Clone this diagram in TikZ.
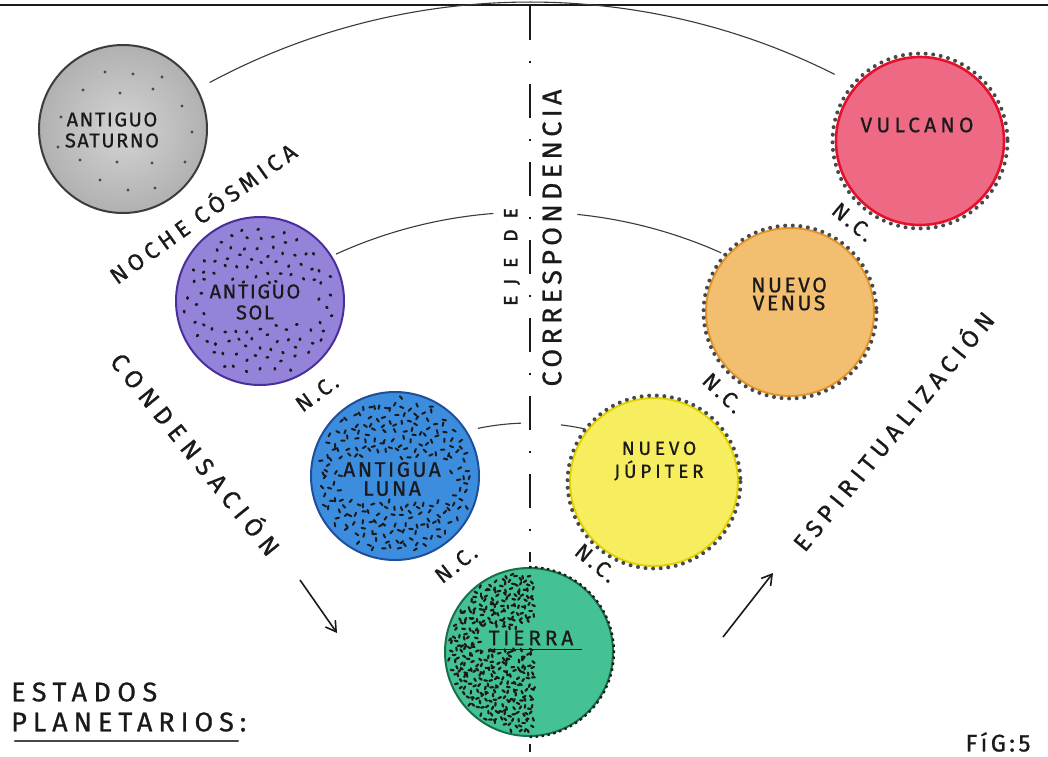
\documentclass[tikz,border=0pt]{standalone}
\usepackage{fontspec}
\setmainfont{Fira Sans}
\usetikzlibrary{arrows.meta}
\definecolor{satfill}{HTML}{C9C9C9}
\definecolor{satedge}{HTML}{3C3C3C}
\definecolor{solfill}{HTML}{9583DA}
\definecolor{soledge}{HTML}{4B2E9E}
\definecolor{lunfill}{HTML}{3D8DDF}
\definecolor{lunedge}{HTML}{1F4F9A}
\definecolor{terfill}{HTML}{45C293}
\definecolor{teredge}{HTML}{17704A}
\definecolor{jupfill}{HTML}{F6EE5E}
\definecolor{jupedge}{HTML}{E2D200}
\definecolor{venfill}{HTML}{F2BE70}
\definecolor{venedge}{HTML}{E3962E}
\definecolor{vulfill}{HTML}{EE6A84}
\definecolor{vuledge}{HTML}{E5102C}
\definecolor{ink}{HTML}{1A1A1A}
\definecolor{arcgrey}{HTML}{3A3A3A}
\newcommand\hf[3]{\fontsize{#1}{#2}\selectfont\addfontfeature{LetterSpace=#3,FakeBold=0.8}}
\newcommand\speckle[8]{%
 \foreach \i in {1,...,#2}{%
  \pgfmathsetmacro\rr{#3*sqrt((\i-0.5)/#2)}%
  \pgfmathsetmacro\th{(\the\numexpr\i*137-360*(\i*137/360)\relax)+\i*0.508}%
  \pgfmathsetmacro\dx{\rr*cos(\th)+(\the\numexpr\i*7919-1000*(\i*7919/1000)\relax)/200}%
  \pgfmathsetmacro\dy{\rr*sin(\th)+(\the\numexpr\i*6271-1000*(\i*6271/1000)\relax)/200}%
  \pgfmathsetmacro\bb{\the\numexpr\i*3571-360*(\i*3571/360)\relax}%
  \pgfmathtruncatemacro\ok{((abs(\dx)>#4 || abs(\dy-(#6))>#5) && \dx<#8) ? 1 : 0}%
  \ifnum\ok=1 \draw[speck,shift={(#1)}] (\dx,\dy) -- ++(\bb:#7);\fi}}
\begin{document}
\begin{tikzpicture}[x=1pt,y=-1pt,
  planet/.style={circle,minimum size=168pt,inner sep=0pt,line width=2pt},
  dotring/.style={line width=4pt,line cap=round,dash pattern=on 0pt off 7.6pt,draw=ink!80},
  hand/.style={text=ink,inner sep=0pt,align=center},
  arcline/.style={draw=arcgrey,line width=1.1pt},
  axisline/.style={draw=ink,line width=2pt,dash pattern=on 34pt off 21pt on 2pt off 21pt},
  arrowline/.style={draw=ink,line width=1.6pt,-{Straight Barb[length=10pt,width=12pt,line width=1.6pt]}},
  speck/.style={draw=ink,line cap=round}]
\useasboundingbox (0,0) rectangle (1048,756);
\fill[white] (0,0) rectangle (1048,756);
\coordinate (bl) at (0,5);
\coordinate (br) at (1048,5);
\draw[line width=2pt,draw=ink] (bl) -- (br);
% arcs
\coordinate (ctr) at (530,680);
\draw[arcline] ([shift={(-118.2:678)}]ctr) arc[start angle=-118.2,end angle=-63.3,radius=678];
\draw[arcline] ([shift={(-114.5:468)}]ctr) arc[start angle=-114.5,end angle=-94.5,radius=468];
\draw[arcline] ([shift={(-84.2:468)}]ctr) arc[start angle=-84.2,end angle=-65.9,radius=468];
\draw[arcline] ([shift={(-101.7:257)}]ctr) arc[start angle=-101.7,end angle=-92,radius=257];
\draw[arcline] ([shift={(-83.1:257)}]ctr) arc[start angle=-83.1,end angle=-77.6,radius=257];
% axis
\coordinate (axtop) at (530,6);
\coordinate (axbot) at (530,562);
\coordinate (axb1) at (530,744);
\coordinate (axb2) at (530,752);
\draw[axisline] (axtop) -- (axbot);
\draw[line width=2pt,draw=ink] (axb1) -- (axb2);
% planets
\node[planet,draw=satedge,inner color=satfill!80!white,outer color=satfill!88!black] (sat) at (123,129) {};
\node[planet,draw=soledge,fill=solfill] (sol) at (260,301) {};
\node[planet,draw=lunedge,fill=lunfill] (lun) at (395,476) {};
\node[planet,draw=teredge,fill=terfill] (ter) at (529,652) {};
\node[planet,draw=jupedge,fill=jupfill] (jup) at (654,482) {};
\node[planet,draw=venedge,fill=venfill] (ven) at (790,312) {};
\node[planet,draw=vuledge,fill=vulfill,line width=2.6pt] (vul) at (920,141) {};
\draw[dotring] (jup) circle[radius=86.5];
\draw[dotring] (ven) circle[radius=86.5];
\draw[dotring] (vul) circle[radius=87.5];
\draw[line width=2.2pt,draw=ink,dash pattern=on 2.5pt off 3.5pt] ([shift={(-90:85)}]ter) arc[start angle=-90,end angle=90,radius=85];
% saturno dots
\foreach \p in {(-18,-57),(10,-55),(39,-52),(-40,-39),(-3,-36),(30,-40),(59,-23),(69,3),(-43,31),(-6,33),(29,34),(62,33),(-23,51),(5,61),(32,59),(-62,-12),(-65,18)}
  \fill[ink!80,shift={(sat)}] \p circle[radius=1.6];
\begin{scope}[speck/.style={draw=ink,line width=2.6pt,line cap=round}]
\speckle{sol}{140}{75}{54}{19}{2}{1.4}{999}
\end{scope}
\begin{scope}[speck/.style={draw=ink,line width=2pt,line cap=round}]
\speckle{lun}{300}{77}{56}{20}{3}{3.5}{999}
\end{scope}
\begin{scope}[speck/.style={draw=ink,line width=2.2pt,line cap=round}]
\speckle{ter}{720}{80}{47}{11}{-14}{2.8}{5}
\end{scope}
% planet labels
\node[hand,font={\hf{20}{21}{8}}] (satlbl) at (112,130) {ANTIGUO\\SATURNO};
\node[hand,font={\hf{20}{21}{8}}] (sollbl) at (255,302) {ANTIGUO\\SOL};
\node[hand,font={\hf{21}{19}{12}}] (lunlbl) at (392,479) {ANTIGUA\\LUNA};
\node[hand,font={\hf{21}{21}{18}}] (terlbl) at (531,638) {TIERRA};
\draw[line width=1.8pt,draw=ink] ([yshift=-4pt]terlbl.south west) -- ([yshift=-4pt,xshift=8pt]terlbl.south east);
\node[hand,font={\hf{19}{23}{20}}] (juplbl) at (659,461) {NUEVO\\JÚPITER};
\node[hand,font={\hf{21}{18}{12}}] (venlbl) at (789,294) {NUEVO\\VENUS};
\node[hand,font={\hf{21}{21}{20}}] (vullbl) at (917,125) {VULCANO};
% N.C. labels
\node[hand,font={\hf{22}{22}{14}},rotate=36] (nc1) at (317,393) {N.C.};
\node[hand,font={\hf{22}{22}{14}},rotate=38] (nc2) at (456,564) {N.C.};
\node[hand,font={\hf{22}{22}{14}},rotate=-40] (nc3) at (596,563) {N.C.};
\node[hand,font={\hf{22}{22}{14}},rotate=-44] (nc4) at (723,393) {N.C.};
\node[hand,font={\hf{22}{22}{14}},rotate=-40] (nc5) at (853,222) {N.C.};
% long labels
\node[hand,font={\hf{23}{23}{21}},rotate=35.5] (noche) at (202,212) {NOCHE CÓSMICA};
\node[hand,font={\hf{25}{25}{27}},rotate=-51] (conden) at (197,453) {CONDENSACIÓN};
\node[hand,font={\hf{24}{24}{24}},rotate=50.6] (espir) at (892,430) {ESPIRITUALIZACIÓN};
\node[hand,font={\fontsize{19}{19}\selectfont\addfontfeature{LetterSpace=58,FakeBold=2}},rotate=90] (eje) at (512,257) {EJE DE};
\node[hand,font={\hf{27}{27}{16}},rotate=90] (corr) at (552,238) {CORRESPONDENCIA};
% arrows
\coordinate (as1) at (300,580);
\coordinate (ae1) at (337,633);
\coordinate (as2) at (723,637);
\coordinate (ae2) at (773,573);
\draw[arrowline] (as1) -- (ae1);
\draw[arrowline] (as2) -- (ae2);
% bottom texts
\node[hand,font={\hf{27}{27}{24}},anchor=west] (estados) at (11,692) {ESTADOS};
\node[hand,font={\hf{27}{27}{22}},anchor=west] (planet) at (11,722) {PLANETARIOS:};
\coordinate (ul1) at (15,741);
\coordinate (ul2) at (238,741);
\draw[line width=2.4pt,draw=ink!80,line cap=round] (ul1) -- (ul2);
\node[hand,font={\hf{24}{24}{14}}] (fig) at (998,742) {FíG:5};
\end{tikzpicture}
\end{document}
